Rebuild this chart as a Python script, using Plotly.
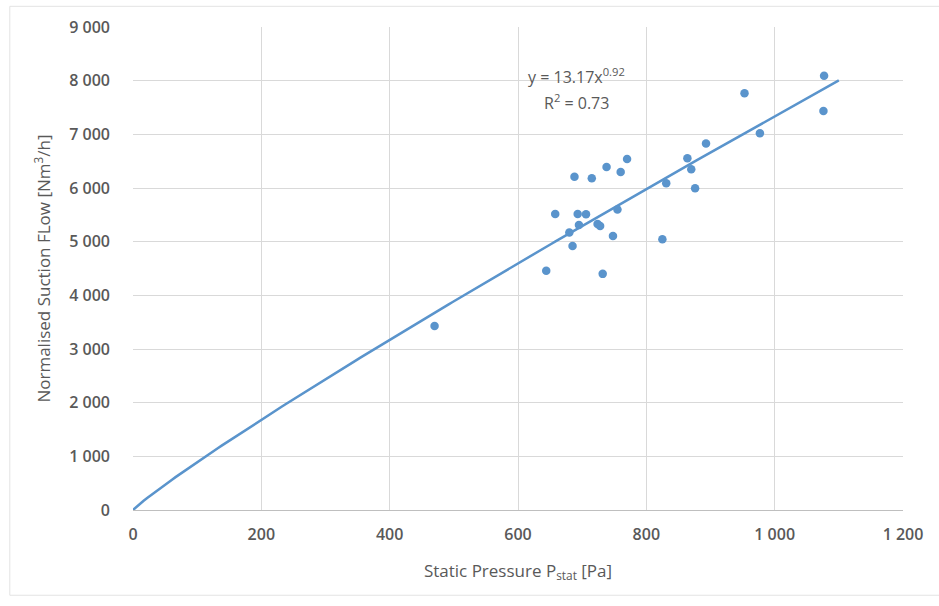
import plotly.graph_objects as go
import numpy as np

# Measured static pressure [Pa] and normalised suction flow [Nm3/h]
pressure = [470, 644, 658, 680, 685, 688, 693, 695, 706, 715, 724, 728, 732, 738,
            748, 755, 760, 770, 825, 831, 864, 870, 876, 893, 953, 977, 1076, 1077]
flow = [3430, 4460, 5515, 5170, 4920, 6210, 5515, 5310, 5510, 6180, 5330, 5290, 4400, 6390,
        5105, 5600, 6300, 6540, 5045, 6090, 6555, 6350, 5995, 6830, 7765, 7020, 7435, 8090]

# Power-law trendline y = a * x^b
trend_a = 13.17
trend_b = 0.9153
trend_r2 = 0.73
trend_x_max = 1100

x_ticks = [0, 200, 400, 600, 800, 1000, 1200]
x_tick_text = ["0", "200", "400", "600", "800", "1 000", "1 200"]
y_ticks = [0, 1000, 2000, 3000, 4000, 5000, 6000, 7000, 8000, 9000]
y_tick_text = ["0", "1 000", "2 000", "3 000", "4 000", "5 000", "6 000", "7 000", "8 000", "9 000"]

BLUE = "#5a94cc"
GRID = "#d9d9d9"
TEXT = "#595959"
FONT = "Open Sans"

trend_x = np.linspace(0, trend_x_max, 200)
trend_y = trend_a * trend_x ** trend_b

fig = go.Figure()
fig.add_trace(go.Scatter(
    x=trend_x, y=trend_y, mode="lines",
    line=dict(color=BLUE, width=2.5), hoverinfo="skip", showlegend=False,
))
fig.add_trace(go.Scatter(
    x=pressure, y=flow, mode="markers",
    marker=dict(color=BLUE, size=8.5, line=dict(width=0)), showlegend=False,
))

# Trendline equation and coefficient of determination
eq_font = dict(family=FONT, size=16, color=TEXT)
fig.add_annotation(
    x=0.5766, y=0.899, xref="paper", yref="paper", xanchor="center", yanchor="middle",
    text=f"y = {trend_a:.2f}x<sup>{trend_b:.2f}</sup>",
    showarrow=False, font=eq_font,
)
fig.add_annotation(
    x=0.5766, y=0.845, xref="paper", yref="paper", xanchor="center", yanchor="middle",
    text=f"R<sup>2</sup> = {trend_r2:.2f}",
    showarrow=False, font=eq_font,
)

# Chart-area frame
fig.add_shape(type="rect", xref="paper", yref="paper",
              x0=-0.160, x1=1.06, y0=-0.1765, y1=1.0428,
              line=dict(color="#e3e3e3", width=1), layer="below")

tick_font = dict(family=FONT, size=16, color=TEXT, weight=600)
title_font = dict(family=FONT, size=17, color=TEXT)

fig.update_layout(
    width=939, height=606,
    margin=dict(l=133, r=36, t=27, b=96),
    paper_bgcolor="white", plot_bgcolor="white",
    font=dict(family=FONT, size=15, color=TEXT),
    xaxis=dict(
        range=[0, 1200], tickvals=x_ticks, ticktext=x_tick_text,
        showgrid=True, gridcolor=GRID, gridwidth=1, zeroline=False,
        showline=True, linecolor="#bfbfbf", linewidth=1, ticks="",
        ticklabelstandoff=10, tickfont=tick_font,
        title=dict(text="Static Pressure P<sub>stat</sub> [Pa]", standoff=20,
                   font=title_font),
    ),
    yaxis=dict(
        range=[0, 9000], tickvals=y_ticks, ticktext=y_tick_text,
        showgrid=True, gridcolor=GRID, gridwidth=1, zeroline=False,
        showline=False, ticks="", ticklabelstandoff=22,
        tickfont=tick_font,
        title=dict(text="Normalised Suction FLow [Nm<sup>3</sup>/h]", standoff=14,
                   font=title_font),
    ),
)

fig.write_html("out.html")
